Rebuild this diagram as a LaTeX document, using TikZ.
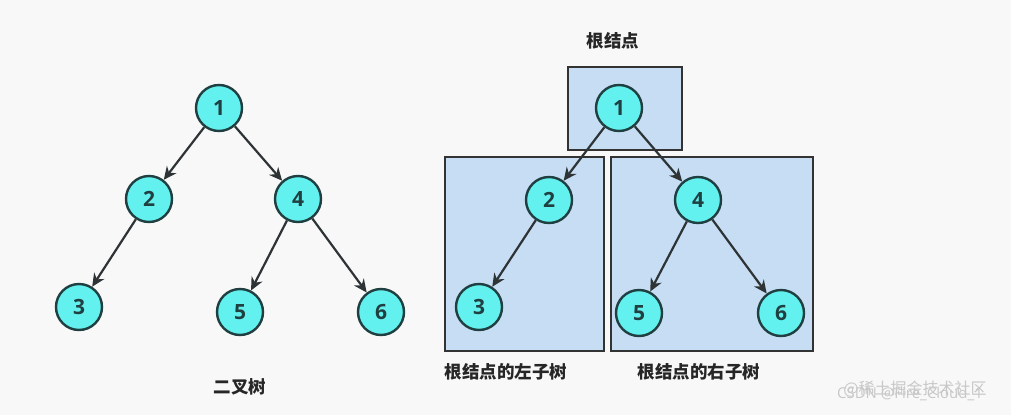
\documentclass[tikz,border=0pt]{standalone}
\usepackage{fontspec}
\setmainfont{Open Sans}
\newfontfamily\cjk{Noto Sans CJK SC}
\usetikzlibrary{arrows.meta}
\definecolor{bgc}{HTML}{F8F8F8}
\definecolor{nodefill}{HTML}{63F1EF}
\definecolor{nodeline}{HTML}{1F3F40}
\definecolor{boxfill}{HTML}{C6DDF4}
\definecolor{boxline}{HTML}{333333}
\definecolor{edgec}{HTML}{2E3436}
\definecolor{wm}{HTML}{C8C8C8}
\tikzset{
  tnode/.style={circle, draw=nodeline, fill=nodefill, line width=2.4pt, minimum size=46pt, inner sep=0pt, font=\fontsize{21}{21}\selectfont\bfseries, text=nodeline},
  edge/.style={draw=edgec, line width=2.2pt, -{Stealth[length=13pt,width=12pt]}},
  subbox/.style={draw=boxline, fill=boxfill, line width=2.2pt},
  lbl/.style={font=\cjk\fontsize{17.5}{17.5}\selectfont\bfseries, text=black!85},
  wmark/.style={font=\cjk\fontsize{16}{16}\selectfont, text=wm}
}
\begin{document}
\begin{tikzpicture}[x=1pt,y=-1pt]
\fill[bgc] (0,0) rectangle (1011,415);
\useasboundingbox (0,0) rectangle (1011,415);
% left tree
\node[tnode] (a1) at (219,108) {1};
\node[tnode] (a2) at (149,199) {2};
\node[tnode] (a4) at (298,199) {4};
\node[tnode] (a3) at (79,307) {3};
\node[tnode] (a5) at (240,312) {5};
\node[tnode] (a6) at (381,312) {6};
\draw[edge] (a1) -- (a2);
\draw[edge] (a1) -- (a4);
\draw[edge] (a2) -- (a3);
\draw[edge] (a4) -- (a5);
\draw[edge] (a4) -- (a6);
\node[lbl] (t0) at (240,387) {二叉树};
% right tree boxes
\path[subbox] (568,67) rectangle (682,150);
\path[subbox] (445,157) rectangle (604,351);
\path[subbox] (611,157) rectangle (813,351);
\node[tnode] (b1) at (619,108) {1};
\node[tnode] (b2) at (549,200) {2};
\node[tnode] (b4) at (698,200) {4};
\node[tnode] (b3) at (479,307) {3};
\node[tnode] (b5) at (639,313) {5};
\node[tnode] (b6) at (781,313) {6};
\draw[edge] (b1) -- (b2);
\draw[edge] (b1) -- (b4);
\draw[edge] (b2) -- (b3);
\draw[edge] (b4) -- (b5);
\draw[edge] (b4) -- (b6);
\node[lbl] (t1) at (613,41) {根结点};
\node[lbl] (t2) at (506,372) {根结点的左子树};
\node[lbl] (t3) at (699,372) {根结点的右子树};
% watermarks (overlapping, as in the reference)
\node[wmark] (w1) at (915,389) {@稀土掘金技术社区};
\node[wmark, font=\fontsize{15}{15}\selectfont] (w2) at (910,394) {CSDN @Fire\_Cloud\_1};
\end{tikzpicture}
\end{document}
